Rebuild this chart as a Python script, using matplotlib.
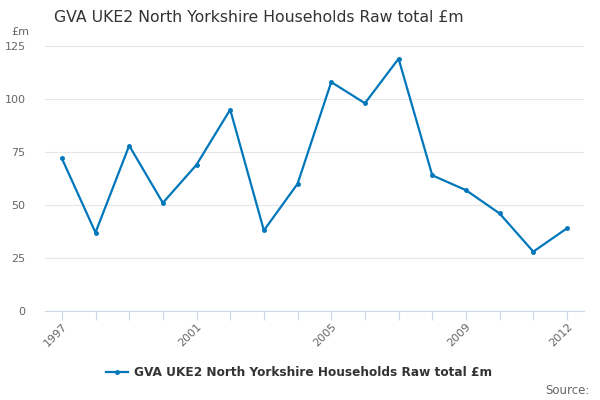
import matplotlib
matplotlib.use("Agg")
import matplotlib.pyplot as plt
from matplotlib.lines import Line2D

years = list(range(1997, 2013))
values = [72, 37, 78, 51, 69, 95, 38, 60, 108, 98, 119, 64, 57, 46, 28, 39]
tick_years = [1997, 2001, 2005, 2009, 2012]
yticks = [0, 25, 50, 75, 100, 125]
series_name = "GVA UKE2 North Yorkshire Households Raw total £m"
color = "#0077bb"

fig = plt.figure(figsize=(6, 4), dpi=100)
ax = fig.add_axes([0.075, 0.2225, 0.898, 0.6625])
ax.plot(years, values, color=color, lw=1.6, marker="o", ms=2.5, zorder=3)
ax.set_xlim(1996.5, 2012.5)
ax.set_ylim(0, 125)
ax.set_yticks(yticks)
ax.set_yticklabels([str(v) for v in yticks], color="#666666", fontsize=8)
ax.yaxis.grid(True, color="#e6e6e6", lw=0.8)
ax.set_axisbelow(True)
ax.tick_params(axis="y", length=0, pad=14)
ax.set_xticks(years, minor=False)
ax.set_xticklabels([str(y) if y in tick_years else "" for y in years],
                   rotation=45, ha="right", rotation_mode="anchor",
                   color="#666666", fontsize=8)
ax.tick_params(axis="x", length=6.5, color="#ccd6eb", width=0.8, pad=1)
for s in ["top", "right", "left"]:
    ax.spines[s].set_visible(False)
ax.spines["bottom"].set_color("#ccd6eb")
ax.spines["bottom"].set_linewidth(0.8)

fig.text(0.432, 0.955, series_name, ha="center", va="center", fontsize=11.3, color="#333333")
fig.text(0.018, 0.92, "£m", ha="left", va="center", fontsize=8, color="#666666")

handle = Line2D([0], [0], color=color, lw=1.6, marker="o", ms=2.5)
fig.legend([handle], [series_name], loc="center", bbox_to_anchor=(0.4985, 0.068),
           frameon=False, prop={"weight": "bold", "size": 8.7}, handlelength=1.8,
           handletextpad=0.5, labelcolor="#333333")
fig.text(0.983, 0.025, "Source:", ha="right", va="center", fontsize=8.5, color="#666666")

fig.savefig("out.png", dpi=100)
